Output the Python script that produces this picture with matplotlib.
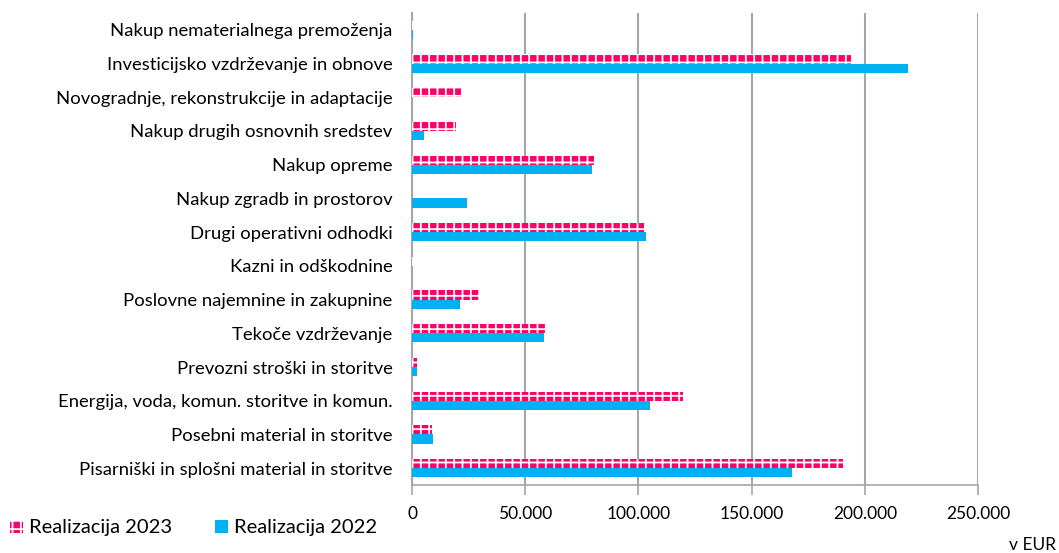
import matplotlib
matplotlib.use('Agg')
import matplotlib.pyplot as plt
import matplotlib.patches as mpatches
from matplotlib.ticker import FuncFormatter
import numpy as np

categories = ['Pisarniški in splošni material in storitve',
              'Posebni material in storitve',
              'Energija, voda, komun. storitve in komun.',
              'Prevozni stroški in storitve',
              'Tekoče vzdrževanje',
              'Poslovne najemnine in zakupnine',
              'Kazni in odškodnine',
              'Drugi operativni odhodki',
              'Nakup zgradb in prostorov',
              'Nakup opreme',
              'Nakup drugih osnovnih sredstev',
              'Novogradnje, rekonstrukcije in adaptacije',
              'Investicijsko vzdrževanje in obnove',
              'Nakup nematerialnega premoženja']
real_2023 = [190400, 8800, 119700, 2200, 59200, 30000, 500, 102500, 0, 80400, 19400, 21600, 193900, 500]
real_2022 = [167800, 9300, 105100, 2200, 58300, 21200, 0, 103400, 24300, 79500, 5300, 0, 219100, 400]
x_ticks = [0, 50000, 100000, 150000, 200000, 250000]

pink = '#FF0066'
blue = '#00B0F0'
grid_col = '#A6A6A6'

plt.rcParams['font.family'] = ['Lato', 'DejaVu Sans']
plt.rcParams['hatch.linewidth'] = 1.3

fig = plt.figure(figsize=(10.59, 5.53), dpi=100)
ax = fig.add_axes([412/1059, 1 - 485/553, (978-412)/1059, (485-13)/553])

y = np.arange(len(categories))
h = 0.27
ax.barh(y + h/2, real_2023, height=h, color=pink, edgecolor='white', linewidth=0, hatch='++', zorder=3)
ax.barh(y - h/2, real_2022, height=h, color=blue, linewidth=0, zorder=3)

ax.set_xlim(0, 250000)
ax.set_ylim(-0.5, len(categories) - 0.5)
ax.set_yticks(y)
ax.set_yticklabels(categories, fontsize=13.3, color='#000000')
ax.tick_params(axis='y', length=0, pad=14)
ax.set_xticks(x_ticks)
ax.xaxis.set_major_formatter(FuncFormatter(lambda v, p: f'{int(v):,}'.replace(',', '.')))
ax.tick_params(axis='x', length=7, width=1.2, color=grid_col, labelsize=12.5, pad=8)
ax.grid(axis='x', color=grid_col, linewidth=1.5, zorder=0)
ax.set_axisbelow(True)
for s in ['top', 'right']:
    ax.spines[s].set_visible(False)
ax.spines['left'].set_color(grid_col)
ax.spines['left'].set_linewidth(1.5)
ax.spines['bottom'].set_color(grid_col)
ax.spines['bottom'].set_linewidth(1.2)

handles = [mpatches.Patch(facecolor=pink, edgecolor='white', linewidth=0, hatch='++', label='Realizacija 2023'),
           mpatches.Patch(facecolor=blue, linewidth=0, label='Realizacija 2022')]
fig.legend(handles=handles, loc='center left', bbox_to_anchor=(10/1059, 1 - 528/553), ncol=2,
           frameon=False, fontsize=14.5, handlelength=0.65, handleheight=0.65,
           handletextpad=0.3, columnspacing=2.1, borderpad=0, borderaxespad=0)

fig.text(0.997, 1 - 545/553, 'v EUR', ha='right', va='center', fontsize=12.5)

fig.savefig('out.png', dpi=100)
